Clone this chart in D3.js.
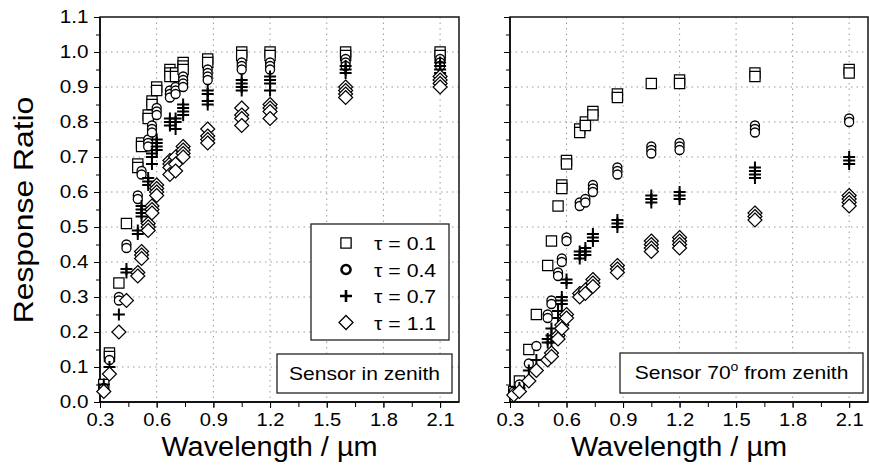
<!DOCTYPE html>
<html><head><meta charset="utf-8">
<script src="https://cdn.jsdelivr.net/npm/d3@7"></script>
<style>body{margin:0;background:#fff}svg{display:block}text{font-family:"Liberation Sans",Arial,sans-serif;fill:#000}</style>
</head><body><svg id="c" width="870" height="472"></svg>
<script>
// ---- data ----
const wavelengths = [0.32,0.35,0.40,0.44,0.50,0.52,0.555,0.575,0.60,0.67,0.70,0.74,0.87,1.05,1.20,1.60,2.10];
const seriesNames = ["τ = 0.1","τ = 0.4","τ = 0.7","τ = 1.1"];
const xTicks = [0.3,0.6,0.9,1.2,1.5,1.8,2.1];
const yTicks = [0.0,0.1,0.2,0.3,0.4,0.5,0.6,0.7,0.8,0.9,1.0,1.1];

// Sensor in zenith
const zenithTau01 = [[0.05],[0.14,0.13],[0.34],[0.51],[0.68,0.67],[0.74,0.73],[0.82,0.81],[0.86,0.85],[0.90,0.89],[0.95,0.94,0.93],[0.94,0.93],[0.97,0.96,0.95],[0.98,0.97],[1.00,0.99],[1.00,0.99],[1.00,0.99],[1.00,0.99]];
const zenithTau04 = [[0.04],[0.12],[0.30,0.29],[0.45,0.44],[0.59,0.58],[0.66,0.65],[0.75,0.74,0.73],[0.79,0.78,0.77],[0.84,0.83,0.82],[0.89,0.88,0.87],[0.90,0.89,0.88],[0.93,0.92,0.91,0.90],[0.95,0.94,0.93,0.92],[0.97,0.96,0.95],[0.97,0.96,0.95],[0.98,0.97,0.96],[0.98,0.97,0.96]];
const zenithTau07 = [[0.05],[0.10],[0.25],[0.38,0.37],[0.49,0.48],[0.56,0.55,0.54,0.53],[0.64,0.63,0.62],[0.71,0.70,0.68],[0.75,0.74,0.73,0.72],[0.81,0.80,0.79],[0.81,0.80,0.78],[0.85,0.84,0.83,0.82],[0.89,0.88,0.86,0.85],[0.92,0.91,0.90,0.89],[0.93,0.92,0.91,0.89],[0.96,0.95,0.94],[0.97,0.96,0.95,0.94]];
const zenithTau11 = [[0.03],[0.08],[0.20],[0.29],[0.37,0.36],[0.43,0.42,0.41],[0.51,0.50,0.49],[0.56,0.55,0.54],[0.62,0.61,0.60,0.59],[0.69,0.68,0.67,0.65],[0.70,0.68,0.66],[0.73,0.72,0.71,0.70],[0.78,0.76,0.75,0.74],[0.84,0.82,0.81,0.79],[0.85,0.84,0.83,0.81],[0.90,0.89,0.88,0.87],[0.93,0.92,0.91,0.90]];

// Sensor 70° from zenith
const slantTau01 = [[0.03],[0.06],[0.15],[0.25],[0.39],[0.46],[0.56],[0.62,0.61],[0.69,0.68],[0.78,0.77],[0.80,0.79],[0.83,0.82],[0.88,0.87],[0.91],[0.92,0.91],[0.94,0.93],[0.95,0.94]];
const slantTau04 = [[0.03],[0.05],[0.11],[0.16],[0.25,0.24],[0.29,0.28],[0.37,0.36],[0.41,0.40],[0.47,0.46],[0.57,0.56],[0.58,0.57],[0.62,0.61,0.60],[0.67,0.66,0.65],[0.73,0.72,0.71],[0.74,0.73,0.72],[0.79,0.78,0.77],[0.81,0.80]];
const slantTau07 = [[0.02],[0.04],[0.09],[0.12],[0.18,0.17],[0.21,0.19,0.17],[0.26,0.24],[0.30,0.29,0.28],[0.35,0.34],[0.43,0.42,0.41],[0.44,0.43,0.42],[0.48,0.47,0.46],[0.52,0.51,0.50],[0.59,0.58,0.57],[0.60,0.59,0.58],[0.67,0.66,0.65,0.64],[0.70,0.69,0.68]];
const slantTau11 = [[0.02],[0.03],[0.06],[0.09],[0.12],[0.14,0.13],[0.19,0.18],[0.22,0.21],[0.25,0.24],[0.31,0.30],[0.32,0.31],[0.35,0.34,0.33],[0.39,0.38,0.37],[0.46,0.45,0.44,0.43],[0.47,0.46,0.45,0.44],[0.54,0.53,0.52],[0.59,0.58,0.57,0.56]];

// ---- drawing ----
const svg = d3.select("#c");
const yTopPx = 17, yBotPx = 402;
const panels = [
  {x0:100, x1:459, data:[zenithTau01,zenithTau04,zenithTau07,zenithTau11], yLabels:true, label:"Sensor in zenith", box:[277,354,452,393], legend:true},
  {x0:510, x1:868, data:[slantTau01,slantTau04,slantTau07,slantTau11], yLabels:false, label:"slant", box:[620,353,863,393], legend:false}
];

const symbolPaths = [
  () => d3.symbol().type(d3.symbolSquare).size(105)(),
  () => d3.symbol().type(d3.symbolCircle).size(64)(),
  () => "M-6,0H6M0,-6V6",
  () => "M0,-7L7,0L0,7L-7,0Z"
];
const symStroke = [1.2,1.3,2,1.2];

const y = d3.scaleLinear().domain([0,1.1]).range([yBotPx, yTopPx]);

panels.forEach(p => {
  const x = d3.scaleLinear().domain([0.3,2.2]).range([p.x0, p.x1]);
  const g = svg.append("g");
  // grid
  g.append("g").selectAll("line").data(xTicks.slice(1)).join("line")
    .attr("x1", d=>x(d)).attr("x2", d=>x(d)).attr("y1", yTopPx).attr("y2", yBotPx)
    .attr("stroke","#999").attr("stroke-width",1).attr("stroke-dasharray","1.5,4");
  g.append("g").selectAll("line").data(yTicks.slice(1,-1)).join("line")
    .attr("y1", d=>y(d)).attr("y2", d=>y(d)).attr("x1", p.x0).attr("x2", p.x1)
    .attr("stroke","#999").attr("stroke-width",1).attr("stroke-dasharray","1.5,4");

  // axes
  const xMinor = d3.range(0.3, 2.21, 0.15);
  const xAx = g.append("g").attr("transform",`translate(0,${yBotPx})`)
    .call(d3.axisBottom(x).tickValues(xTicks).tickSize(6).tickPadding(5).tickFormat(d3.format(".1f")));
  xAx.select(".domain").remove();
  xAx.selectAll("text").attr("font-size",18).attr("font-family","Liberation Sans, Arial, sans-serif")
    .attr("transform","scale(1.12,1)");
  g.append("g").attr("transform",`translate(0,${yBotPx})`)
    .call(d3.axisBottom(x).tickValues(xMinor).tickSize(5).tickFormat(""))
    .select(".domain").remove();

  const yMinor = d3.range(0, 1.101, 0.05);
  const yAx = g.append("g").attr("transform",`translate(${p.x0},0)`)
    .call(d3.axisLeft(y).tickValues(yTicks).tickSize(6).tickPadding(4).tickFormat(p.yLabels ? d3.format(".1f") : ""));
  yAx.select(".domain").remove();
  yAx.selectAll("text").attr("font-size",18).attr("font-family","Liberation Sans, Arial, sans-serif")
    .attr("transform","scale(1.15,1)");
  g.append("g").attr("transform",`translate(${p.x0},0)`)
    .call(d3.axisLeft(y).tickValues(yMinor).tickSize(4).tickFormat(""))
    .select(".domain").remove();

  // frame
  g.append("rect").attr("x",p.x0).attr("y",yTopPx).attr("width",p.x1-p.x0).attr("height",yBotPx-yTopPx)
    .attr("fill","none").attr("stroke","#222").attr("stroke-width",1.6);
  g.append("line").attr("x1",p.x0).attr("x2",p.x0).attr("y1",yTopPx).attr("y2",yBotPx+0.8).attr("stroke","#000").attr("stroke-width",1.4);
  g.append("line").attr("x1",p.x0-0.7).attr("x2",p.x1).attr("y1",yBotPx).attr("y2",yBotPx).attr("stroke","#000").attr("stroke-width",1.4);

  // points
  p.data.forEach((ser, si) => {
    const pts = [];
    ser.forEach((vals, wi) => vals.forEach(v => pts.push({w: wavelengths[wi], v})));
    g.append("g").selectAll("path").data(pts).join("path")
      .attr("transform", d => `translate(${x(d.w)},${y(d.v)})`)
      .attr("d", symbolPaths[si]())
      .attr("fill", si===2 ? "none" : "#fff")
      .attr("stroke","#000").attr("stroke-width", symStroke[si]);
  });

  // label box
  const [bx0,by0,bx1,by1] = p.box;
  g.append("rect").attr("x",bx0).attr("y",by0).attr("width",bx1-bx0).attr("height",by1-by0)
    .attr("fill","#fff").attr("stroke","#222").attr("stroke-width",1.3);
  const t = g.append("text").attr("transform",`translate(${(bx0+bx1)/2},${by0+26}) scale(1.17,1)`)
    .attr("text-anchor","middle").attr("font-size",18);
  if (p.label === "slant") {
    t.append("tspan").text("Sensor 70");
    t.append("tspan").attr("dy",-8).attr("font-size",12).text("o");
    t.append("tspan").attr("dy",8).text(" from zenith");
  } else {
    t.text(p.label);
  }

  // legend
  if (p.legend) {
    g.append("rect").attr("x",311).attr("y",224).attr("width",138).attr("height",116)
      .attr("fill","#fff").attr("stroke","#222").attr("stroke-width",1.3);
    seriesNames.forEach((n, i) => {
      const ly = 243 + i*26.5;
      g.append("path").attr("transform",`translate(346,${ly})`).attr("d", symbolPaths[i]())
        .attr("fill", i===2 ? "none":"#fff").attr("stroke","#000")
        .attr("stroke-width", i===1 ? 2.6 : (i===2 ? 2.6 : 1.3));
      g.append("text").attr("transform",`translate(374,${ly+7}) scale(1.12,1)`).attr("font-size",19).text(n);
    });
  }

  // x title
  svg.append("text").attr("transform",`translate(${(p.x0+p.x1)/2 - 10},456) scale(1.07,1)`).attr("text-anchor","middle")
    .attr("font-size",27).text("Wavelength / µm");
});

svg.append("text").attr("transform","translate(33,210) rotate(-90) scale(1.18,1)").attr("text-anchor","middle")
  .attr("font-size",27).text("Response Ratio");
</script></body></html>
